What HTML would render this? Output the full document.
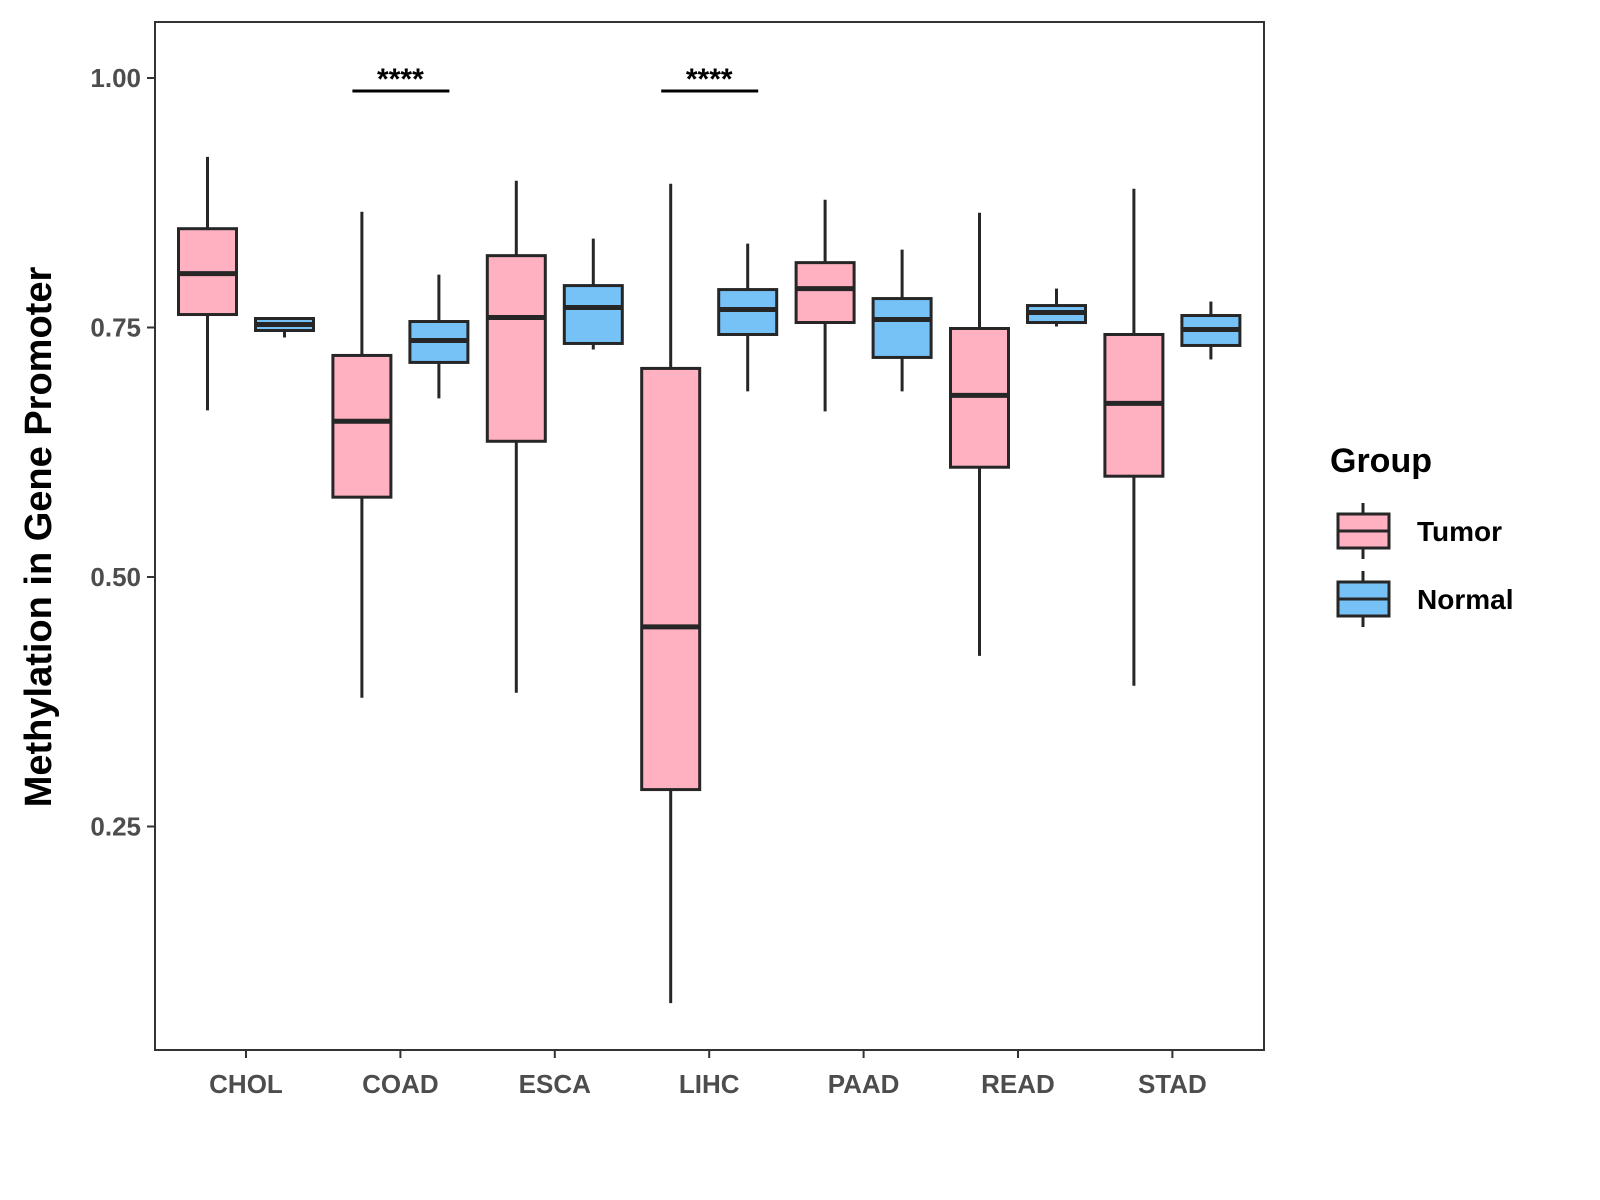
<!DOCTYPE html>
<html><head><meta charset="utf-8"><style>
html,body{margin:0;padding:0;background:#fff;width:1600px;height:1200px;overflow:hidden}
svg text{font-family:"Liberation Sans",sans-serif;font-weight:bold}
</style></head><body>
<svg id="chart" width="1600" height="1200" xmlns="http://www.w3.org/2000/svg"></svg>
<script>
const categories=["CHOL","COAD","ESCA","LIHC","PAAD","READ","STAD"];
// [low, q1, median, q3, high]
const tumorStats=[[0.667,0.763,0.804,0.849,0.921],[0.379,0.580,0.656,0.722,0.866],[0.384,0.636,0.760,0.822,0.897],[0.073,0.287,0.450,0.709,0.894],[0.666,0.755,0.789,0.815,0.878],[0.421,0.610,0.682,0.749,0.865],[0.391,0.601,0.674,0.743,0.889]];
const normalStats=[[0.740,0.747,0.753,0.759,0.760],[0.679,0.715,0.737,0.756,0.803],[0.728,0.734,0.770,0.792,0.839],[0.686,0.743,0.768,0.788,0.834],[0.686,0.720,0.758,0.779,0.828],[0.751,0.755,0.765,0.772,0.789],[0.718,0.732,0.748,0.762,0.776]];
const yTicks=[0.25,0.5,0.75,1.0];
const yTickLabels=["0.25","0.50","0.75","1.00"];
const sigCategories=["COAD","LIHC"];
const sigLabels=["****","****"];
const sigValue=0.987;

const NS="http://www.w3.org/2000/svg";
const svg=document.getElementById('chart');
const L=155,R=1264,T=22,B=1050;
const y=v=>78+(1-v)*998;
const x=i=>246+i*154.4;
function el(tag,attrs,parent){const e=document.createElementNS(NS,tag);for(const k in attrs)e.setAttribute(k,attrs[k]);(parent||svg).appendChild(e);return e;}

const frame=el('rect',{x:L,y:T,width:R-L,height:B-T,fill:'none',stroke:'#333',"stroke-width":2});



yTicks.forEach((v,i)=>{
  const t=el('line',{x1:L-8,x2:L,y1:y(v),y2:y(v),stroke:'#333',"stroke-width":2});
  
  
  const tx=el('text',{x:L-14,y:y(v)+9,"text-anchor":"end","font-size":26,fill:'#4d4d4d'});
  tx.textContent=yTickLabels[i];
  
  
});
categories.forEach((c,i)=>{
  const t=el('line',{x1:x(i),x2:x(i),y1:B,y2:B+8,stroke:'#333',"stroke-width":2});
  
  
  const tx=el('text',{x:x(i),y:1093,"text-anchor":"middle","font-size":26,fill:'#4d4d4d'});
  tx.textContent=c;
  
  
});

function box(cx,s,fill,name){
  const g=el('g',{});
  
  
  const w=58;
  el('line',{x1:cx,x2:cx,y1:y(s[4]),y2:y(s[0]),stroke:'#262626',"stroke-width":3},g);
  el('rect',{x:cx-w/2,y:y(s[3]),width:w,height:Math.max(y(s[1])-y(s[3]),1),fill:fill,stroke:'#262626',"stroke-width":3},g);
  el('line',{x1:cx-w/2,x2:cx+w/2,y1:y(s[2]),y2:y(s[2]),stroke:'#262626',"stroke-width":5},g);
}
categories.forEach((c,i)=>{
  box(x(i)-38.5,tumorStats[i],'#FFB0C1','box-tumor-'+c.toLowerCase());
  box(x(i)+38.5,normalStats[i],'#76C2F7','box-normal-'+c.toLowerCase());
});

sigCategories.forEach((c,j)=>{
  const i=categories.indexOf(c);
  const ln=el('line',{x1:x(i)-48,x2:x(i)+49,y1:y(sigValue),y2:y(sigValue),stroke:'#000',"stroke-width":3});
  
  
  const tx=el('text',{x:x(i),y:y(sigValue)-2,"text-anchor":"middle","font-size":30,fill:'#000'});
  tx.textContent=sigLabels[j];
  
  
});

const yt=el('text',{x:0,y:0,"text-anchor":"middle","font-size":38,fill:'#000',transform:'translate(51,537) rotate(-90)'});
yt.textContent='Methylation in Gene Promoter';



const lg=el('g',{});


const lt=el('text',{x:1330,y:472,"font-size":34,fill:'#000'},lg);
lt.textContent='Group';


[['Tumor','#FFB0C1',531],['Normal','#76C2F7',599]].forEach(([n,f,cy])=>{
  const g=el('g',{},lg);
  
  
  el('line',{x1:1363,x2:1363,y1:cy-28,y2:cy+28,stroke:'#262626',"stroke-width":3},g);
  el('rect',{x:1338,y:cy-17,width:51,height:34,fill:f,stroke:'#262626',"stroke-width":3},g);
  el('line',{x1:1338,x2:1389,y1:cy,y2:cy,stroke:'#262626',"stroke-width":3},g);
  const t=el('text',{x:1417,y:cy+10,"font-size":28,fill:'#000'},g);
  t.textContent=n;
});
</script>
</body></html>
